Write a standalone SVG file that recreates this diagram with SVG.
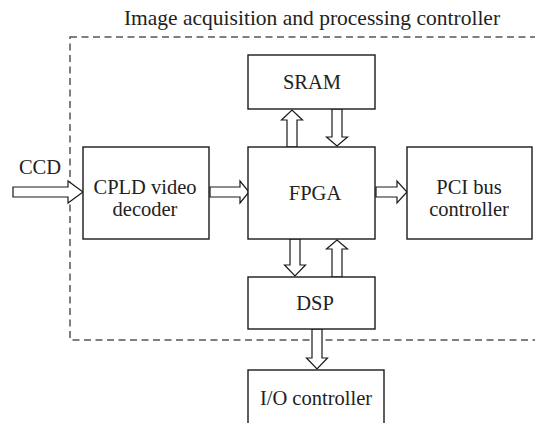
<svg xmlns="http://www.w3.org/2000/svg" width="535" height="423" viewBox="0 0 535 423">
<style>
.box{fill:#fff;stroke:#1a1a1a;stroke-width:1.4}
.arr{fill:#fff;stroke:#1a1a1a;stroke-width:1.2;stroke-linejoin:miter}
.dash{fill:none;stroke:#555;stroke-width:1.5;stroke-dasharray:7,4.5}
text{font-family:"Liberation Serif","Times New Roman",serif;font-size:20.5px;fill:#222;text-anchor:middle}
</style>
<rect width="535" height="423" fill="#fff"/>
<g id="controller-boundary">
<rect class="dash" x="70" y="37" width="480" height="303"/>
<text x="312" y="25" style="font-size:21.5px">Image acquisition and processing controller</text>
</g>
<g id="connectors">
<polygon class="arr" points="13,187 68,187 68,181 83,192 68,203 68,197 13,197"/>
<polygon class="arr" points="210,187 240,187 240,181 249,192 240,203 240,197 210,197"/>
<polygon class="arr" points="376,187 397,187 397,181 407,192 397,203 397,197 376,197"/>
<polygon class="arr" points="287,147 287,120 281.5,120 292,110 302.5,120 297,120 297,147"/>
<polygon class="arr" points="332,109 332,137 326.5,137 337,146 347.5,137 342,137 342,109"/>
<polygon class="arr" points="290,239 290,265 284.5,265 295,276 305.5,265 300,265 300,239"/>
<polygon class="arr" points="332,277 332,249 326.5,249 337,240 347.5,249 342,249 342,277"/>
<polygon class="arr" points="312,329 312,358 306.5,358 317,369 327.5,358 322,358 322,329"/>
</g>
<g id="ccd"><text x="40" y="174">CCD</text></g>
<g id="sram"><rect class="box" x="248" y="55" width="127" height="54"/><text x="312" y="89">SRAM</text></g>
<g id="cpld"><rect class="box" x="83" y="147" width="126" height="92"/><text x="145" y="194">CPLD video</text><text x="145" y="216">decoder</text></g>
<g id="fpga"><rect class="box" x="248" y="147" width="127" height="92"/><text x="315" y="200">FPGA</text></g>
<g id="pci"><rect class="box" x="407" y="147" width="125" height="92"/><text x="469" y="194">PCI bus</text><text x="469" y="216">controller</text></g>
<g id="dsp"><rect class="box" x="248" y="277" width="127" height="52"/><text x="315" y="310">DSP</text></g>
<g id="io"><rect class="box" x="248" y="370" width="136" height="70"/><text x="316" y="405">I/O controller</text></g>
</svg>
